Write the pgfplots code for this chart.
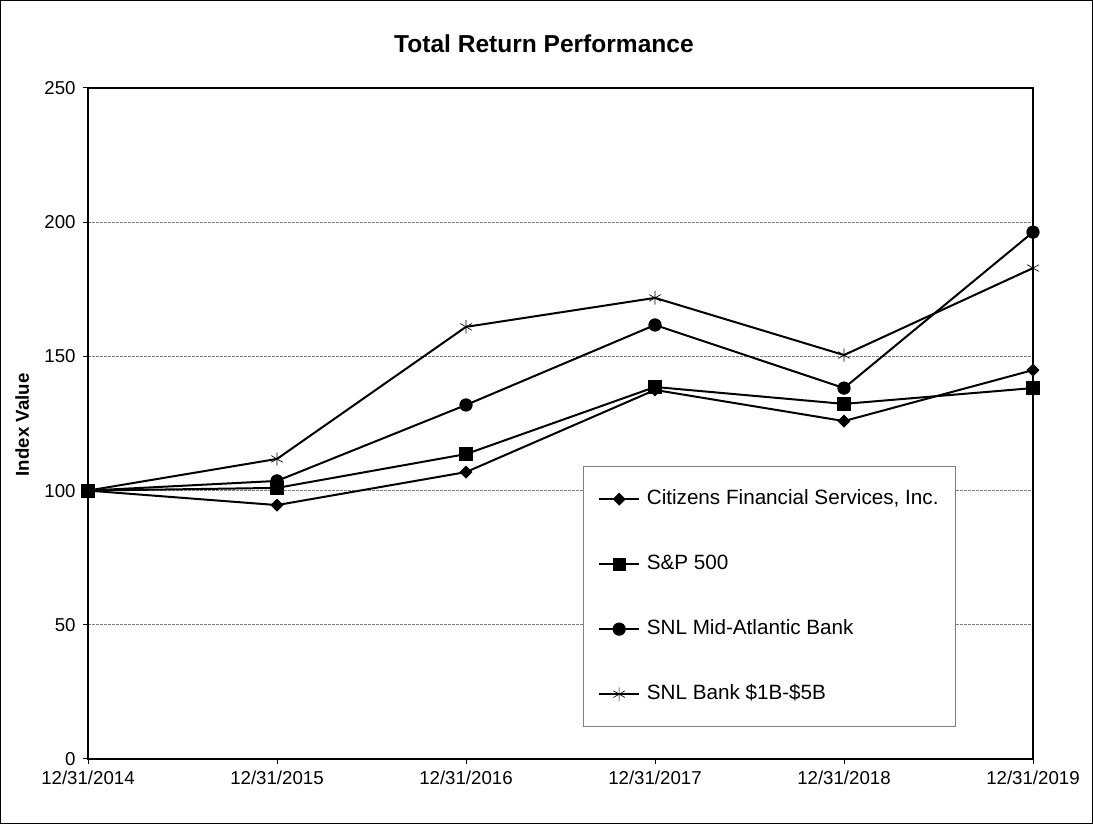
\documentclass[border=0pt]{standalone}
\usepackage{pgfplots}
\pgfplotsset{compat=1.18}
\usepackage{fontspec}
\setmainfont{Liberation Sans}
\begin{document}
\begin{tikzpicture}
\useasboundingbox (0,0) rectangle (819.75pt,618pt);
\draw[line width=0.75pt] (0.375pt,0.375pt) rectangle (819.375pt,617.625pt);
\begin{axis}[
    at={(66pt,48.75pt)}, anchor=south west,
    width=708.75pt, height=503.25pt, scale only axis,
    xmin=0, xmax=5, ymin=0, ymax=250,
    xtick={0,1,2,3,4,5},
    xticklabels={12/31/2014,12/31/2015,12/31/2016,12/31/2017,12/31/2018,12/31/2019},
    ytick={0,50,100,150,200,250},
    tick pos=left, tick align=outside,
    major tick length=3.75pt,
    tick style={black, line width=0.75pt},
    ymajorgrids,
    grid style={gray, line width=0.5pt, dash pattern=on 2pt off 1pt},
    axis line style={line width=1.5pt},
    /pgf/number format/assume math mode=true,
    ticklabel style={font=\fontsize{14}{16}\selectfont},
    yticklabel style={xshift=-2pt},
    xticklabel style={yshift=-2pt},
    title={Total Return Performance},
    title style={font=\bfseries\fontsize{18.4}{22}\selectfont, at={(0.4825,1.0537)}, anchor=center},
    ylabel={Index Value},
    ylabel style={font=\bfseries\fontsize{14}{16}\selectfont, at={(axis description cs:-0.0695,0.4978)}, anchor=center},
    every axis plot/.append style={black, line width=1.5pt},
    legend cell align=left,
    legend style={at={(0.5238,0.4367)}, anchor=north west, draw=gray, line width=0.75pt,
        font=\fontsize{15.5}{18}\selectfont,
        inner xsep=11pt, inner ysep=15.5pt, row sep=30.75pt,
        nodes={inner sep=2pt, text height=11pt, text depth=3pt},
        /tikz/every odd column/.append style={column sep=3pt}},
    legend image code/.code={
        \draw[mark repeat=2,mark phase=2] plot coordinates {(0pt,0pt) (15pt,0pt) (30pt,0pt)};
    },
]

% Citizens Financial Services, Inc.
\addplot[mark=diamond*, mark size=4.5pt, mark options={xscale=1.33, line width=0.5pt}] coordinates {
    (0,100) (1,94.6) (2,106.9) (3,137.5) (4,125.9) (5,144.9)
};
% S&P 500
\addplot[mark=square*, mark size=4.7pt, mark options={line width=0.5pt}] coordinates {
    (0,100) (1,101.0) (2,113.6) (3,138.6) (4,132.3) (5,138.2)
};
% SNL Mid-Atlantic Bank
\addplot[mark=*, mark size=4.7pt, mark options={line width=0.5pt}] coordinates {
    (0,100) (1,103.6) (2,131.9) (3,161.7) (4,138.2) (5,196.3)
};
% SNL Bank $1B-$5B
\addplot[mark=asterisk, mark size=5pt, mark options={line width=0.5pt}] coordinates {
    (0,100) (1,111.8) (2,161.0) (3,171.8) (4,150.5) (5,182.9)
};

\legend{{Citizens Financial Services, Inc.}, S\&P 500, SNL Mid-Atlantic Bank, SNL Bank \$1B-\$5B}
\end{axis}
\end{tikzpicture}
\end{document}
